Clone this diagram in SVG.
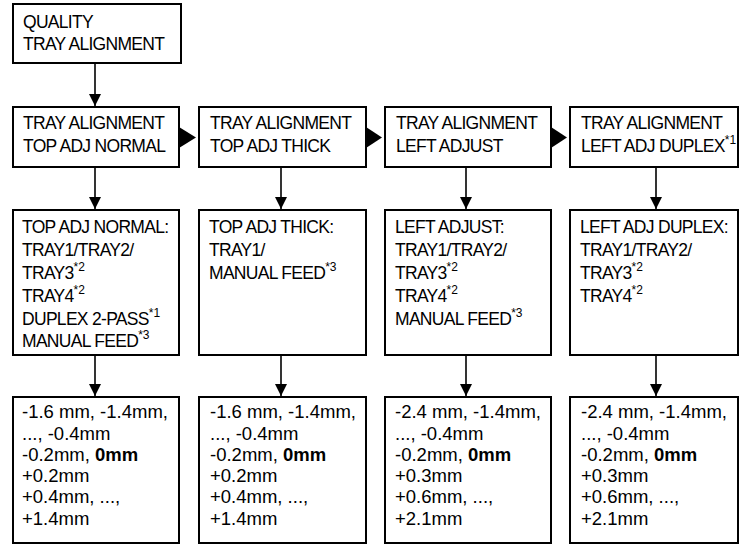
<svg xmlns="http://www.w3.org/2000/svg" width="740" height="546" viewBox="0 0 740 546">
<style>
.box{fill:#fff;stroke:#000;stroke-width:2}
.t{font-family:"Liberation Sans",Arial,sans-serif;font-size:17.5px;fill:#000;letter-spacing:-0.7px}
.v{font-family:"Liberation Sans",Arial,sans-serif;font-size:18.5px;fill:#000}
.sup{font-size:12px;letter-spacing:0}
.b{font-weight:bold}
.ln{stroke:#000;stroke-width:1.6;fill:none}
.ah{fill:#000}
</style>
<defs>
<marker id="arr" markerUnits="userSpaceOnUse" markerWidth="12" markerHeight="14" viewBox="0 0 12 14" refX="12" refY="6" orient="auto">
<path d="M0,0 L12,6 L0,12 Z" fill="#000"/>
</marker>
</defs>
<rect width="740" height="546" fill="#fff"/>
<g id="connectors">
<line class="ln" x1="95" y1="63" x2="95" y2="106" marker-end="url(#arr)"/>
<line class="ln" x1="95" y1="167" x2="95" y2="209" marker-end="url(#arr)"/>
<line class="ln" x1="281" y1="167" x2="281" y2="209" marker-end="url(#arr)"/>
<line class="ln" x1="466" y1="167" x2="466" y2="209" marker-end="url(#arr)"/>
<line class="ln" x1="656" y1="167" x2="656" y2="209" marker-end="url(#arr)"/>
<line class="ln" x1="95" y1="355" x2="95" y2="396" marker-end="url(#arr)"/>
<line class="ln" x1="281" y1="355" x2="281" y2="396" marker-end="url(#arr)"/>
<line class="ln" x1="466" y1="355" x2="466" y2="396" marker-end="url(#arr)"/>
<line class="ln" x1="656" y1="355" x2="656" y2="396" marker-end="url(#arr)"/>
<polygon class="ah" points="179,127 179,148 196,137.5"/>
<polygon class="ah" points="366,127 366,148 382,137.5"/>
<polygon class="ah" points="551,127 551,148 567,137.5"/>
</g>
<g id="n0">
<rect class="box" x="13" y="4" width="168" height="59"/>
<text class="t" x="23" y="28">QUALITY</text>
<text class="t" x="23" y="50">TRAY ALIGNMENT</text>
</g>
<g id="n1">
<rect class="box" x="13" y="107" width="166" height="60"/>
<text class="t" x="23" y="129">TRAY ALIGNMENT</text>
<text class="t" x="23" y="152">TOP ADJ NORMAL</text>
</g>
<g id="n2">
<rect class="box" x="199" y="107" width="167" height="60"/>
<text class="t" x="210" y="129">TRAY ALIGNMENT</text>
<text class="t" x="210" y="152">TOP ADJ THICK</text>
</g>
<g id="n3">
<rect class="box" x="385" y="107" width="166" height="60"/>
<text class="t" x="396" y="129">TRAY ALIGNMENT</text>
<text class="t" x="396" y="152">LEFT ADJUST</text>
</g>
<g id="n4">
<rect class="box" x="570" y="107" width="168" height="60"/>
<text class="t" x="581" y="129">TRAY ALIGNMENT</text>
<text class="t" x="581" y="152">LEFT ADJ DUPLEX<tspan class="sup" dy="-8">*1</tspan></text>
</g>
<g id="n5">
<rect class="box" x="13" y="210" width="166" height="145"/>
<text class="t" x="22" y="233">TOP ADJ NORMAL:</text>
<text class="t" x="22" y="256">TRAY1/TRAY2/</text>
<text class="t" x="22" y="279">TRAY3<tspan class="sup" dy="-8">*2</tspan></text>
<text class="t" x="22" y="302">TRAY4<tspan class="sup" dy="-8">*2</tspan></text>
<text class="t" x="22" y="325">DUPLEX 2-PASS<tspan class="sup" dy="-8">*1</tspan></text>
<text class="t" x="22" y="347">MANUAL FEED<tspan class="sup" dy="-8">*3</tspan></text>
</g>
<g id="n6">
<rect class="box" x="199" y="210" width="167" height="145"/>
<text class="t" x="209" y="233">TOP ADJ THICK:</text>
<text class="t" x="209" y="256">TRAY1/</text>
<text class="t" x="209" y="279">MANUAL FEED<tspan class="sup" dy="-8">*3</tspan></text>
</g>
<g id="n7">
<rect class="box" x="385" y="210" width="166" height="145"/>
<text class="t" x="395" y="233">LEFT ADJUST:</text>
<text class="t" x="395" y="256">TRAY1/TRAY2/</text>
<text class="t" x="395" y="279">TRAY3<tspan class="sup" dy="-8">*2</tspan></text>
<text class="t" x="395" y="302">TRAY4<tspan class="sup" dy="-8">*2</tspan></text>
<text class="t" x="395" y="325">MANUAL FEED<tspan class="sup" dy="-8">*3</tspan></text>
</g>
<g id="n8">
<rect class="box" x="570" y="210" width="168" height="145"/>
<text class="t" x="580" y="233">LEFT ADJ DUPLEX:</text>
<text class="t" x="580" y="256">TRAY1/TRAY2/</text>
<text class="t" x="580" y="279">TRAY3<tspan class="sup" dy="-8">*2</tspan></text>
<text class="t" x="580" y="302">TRAY4<tspan class="sup" dy="-8">*2</tspan></text>
</g>
<g id="n9">
<rect class="box" x="13" y="397" width="166" height="146"/>
<text class="v" x="22" y="418">-1.6 mm, -1.4mm,</text>
<text class="v" x="22" y="440">..., -0.4mm</text>
<text class="v" x="22" y="461">-0.2mm, <tspan class="b">0mm</tspan></text>
<text class="v" x="22" y="482">+0.2mm</text>
<text class="v" x="22" y="503">+0.4mm, ...,</text>
<text class="v" x="22" y="525">+1.4mm</text>
</g>
<g id="n10">
<rect class="box" x="199" y="397" width="167" height="146"/>
<text class="v" x="210" y="418">-1.6 mm, -1.4mm,</text>
<text class="v" x="210" y="440">..., -0.4mm</text>
<text class="v" x="210" y="461">-0.2mm, <tspan class="b">0mm</tspan></text>
<text class="v" x="210" y="482">+0.2mm</text>
<text class="v" x="210" y="503">+0.4mm, ...,</text>
<text class="v" x="210" y="525">+1.4mm</text>
</g>
<g id="n11">
<rect class="box" x="385" y="397" width="166" height="146"/>
<text class="v" x="395" y="418">-2.4 mm, -1.4mm,</text>
<text class="v" x="395" y="440">..., -0.4mm</text>
<text class="v" x="395" y="461">-0.2mm, <tspan class="b">0mm</tspan></text>
<text class="v" x="395" y="482">+0.3mm</text>
<text class="v" x="395" y="503">+0.6mm, ...,</text>
<text class="v" x="395" y="525">+2.1mm</text>
</g>
<g id="n12">
<rect class="box" x="570" y="397" width="168" height="146"/>
<text class="v" x="581" y="418">-2.4 mm, -1.4mm,</text>
<text class="v" x="581" y="440">..., -0.4mm</text>
<text class="v" x="581" y="461">-0.2mm, <tspan class="b">0mm</tspan></text>
<text class="v" x="581" y="482">+0.3mm</text>
<text class="v" x="581" y="503">+0.6mm, ...,</text>
<text class="v" x="581" y="525">+2.1mm</text>
</g>
</svg>
